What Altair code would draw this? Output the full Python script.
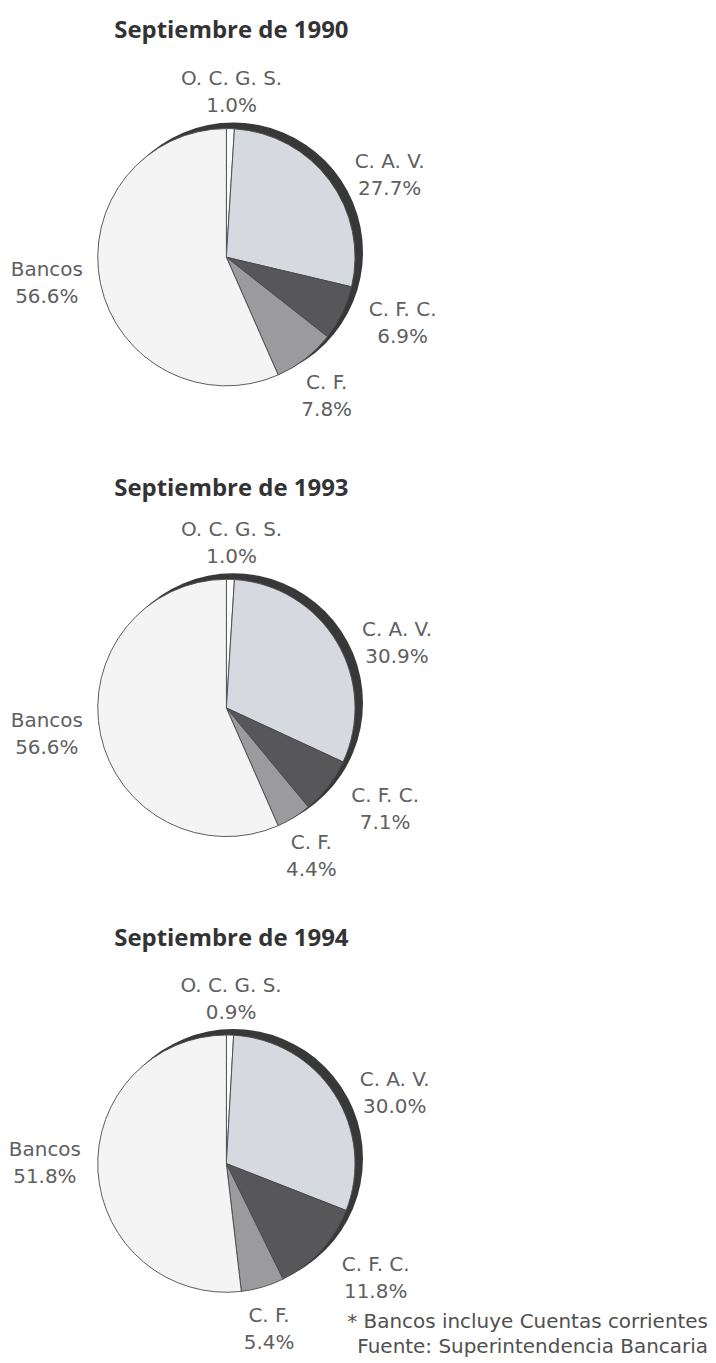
import altair as alt
import pandas as pd

# ---- data ----
CATEGORIES = ["O. C. G. S.", "C. A. V.", "C. F. C.", "C. F.", "Bancos"]
TITLES = ["Septiembre de 1990", "Septiembre de 1993", "Septiembre de 1994"]
SHARE_1990 = [1.0, 27.7, 6.9, 7.8, 56.6]
SHARE_1993 = [1.0, 30.9, 7.1, 4.4, 56.6]
SHARE_1994 = [0.9, 30.0, 11.8, 5.4, 51.8]
FOOTNOTE = ["* Bancos incluye Cuentas corrientes", "Fuente: Superintendencia Bancaria"]

# ---- styling / layout ----
FILLS = ["#fbfbfb", "#d7d9e0", "#57575a", "#9b9b9e", "#f4f4f4"]
RIM = "#383838"
# label placement: angular nudge (deg) from slice middle, and distance (px)
LABEL_NUDGE = {"O. C. G. S.": 0, "C. A. V.": 10, "C. F. C.": -5, "C. F.": 2, "Bancos": 3.5}
LABEL_RADIUS = {"O. C. G. S.": 165, "C. A. V.": 183, "C. F. C.": 189, "C. F.": 172, "Bancos": 182}
LABEL_FONT = "DejaVu Sans"
TITLE_FONT = "Open Sans"
TITLE_OFFSETS = [20, 13, 18]
W, H = 432, 390
R = 129
LH = 27


def pie(title, shares, title_offset, footnote=False):
    df = pd.DataFrame({
        "cat": CATEGORIES,
        "share": shares,
        "idx": list(range(len(CATEGORIES))),
    })
    df["nudge"] = df["cat"].map(LABEL_NUDGE)
    df["lr"] = df["cat"].map(LABEL_RADIUS)
    base = alt.Chart(df)

    rim = base.mark_arc(radius=R + 1, xOffset=7, yOffset=-5, color=RIM).encode(
        theta=alt.Theta("sum(share):Q")
    )
    slices = base.mark_arc(radius=R, stroke="#4a4a4a", strokeWidth=0.9).encode(
        theta=alt.Theta("share:Q", stack=True),
        order=alt.Order("idx:Q"),
        color=alt.Color("cat:N", scale=alt.Scale(domain=CATEGORIES, range=FILLS), legend=None),
    )
    labels = base.transform_joinaggregate(
        total="sum(share)"
    ).transform_window(
        cum="sum(share)", sort=[alt.SortField("idx")], frame=[None, 0]
    ).transform_calculate(
        ang="(datum.cum - datum.share / 2) / datum.total * 2 * PI + datum.nudge * PI / 180",
        label="datum.cat + '\\n' + format(datum.share, '.1f') + '%'",
    ).mark_text(
        font=LABEL_FONT, fontSize=20, color="#606060", lineBreak="\n", lineHeight=LH,
        align="center", baseline="middle", dy=-LH / 2,
    ).encode(
        theta=alt.Theta("ang:Q", scale=None, stack=None),
        radius=alt.Radius("lr:Q", scale=None),
        text="label:N",
    )
    layers = [rim, slices, labels]
    if footnote:
        fdf = pd.DataFrame({"t": ["\n".join(FOOTNOTE)]})
        note = alt.Chart(fdf).mark_text(
            font=LABEL_FONT, fontSize=20, color="#505050", lineBreak="\n", lineHeight=25,
            align="right", baseline="middle",
        ).encode(text="t:N", x=alt.value(699), y=alt.value(354))
        layers.append(note)
    return alt.layer(*layers).properties(
        width=W, height=H,
        title=alt.TitleParams(
            title, font=TITLE_FONT, fontSize=24, fontWeight="bold", color="#333333",
            anchor="middle", offset=title_offset, dx=5,
        ),
    )


chart = alt.vconcat(
    pie(TITLES[0], SHARE_1990, TITLE_OFFSETS[0]),
    pie(TITLES[1], SHARE_1993, TITLE_OFFSETS[1]),
    pie(TITLES[2], SHARE_1994, TITLE_OFFSETS[2], footnote=True),
    spacing=25,
).properties(
    padding={"top": 9, "left": 0, "right": 0, "bottom": 0}
).configure_view(strokeWidth=0, stroke="transparent")

chart.save("out.html", embed_options={"renderer": "svg", "actions": False})
